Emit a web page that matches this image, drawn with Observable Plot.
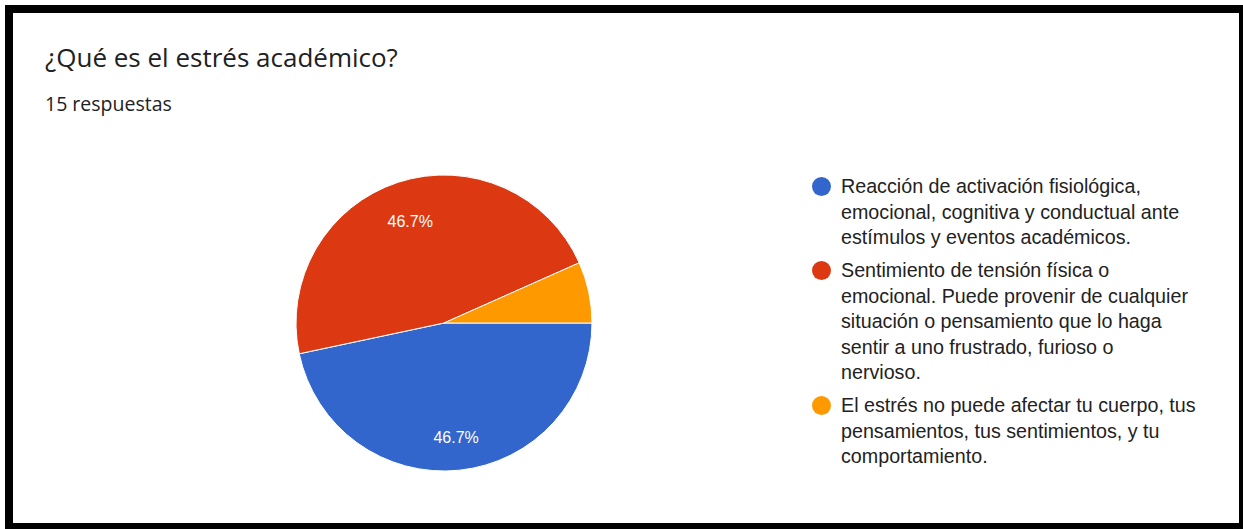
<!DOCTYPE html>
<html>
<head>
<meta charset="utf-8">
<script src="https://cdn.jsdelivr.net/npm/d3@7"></script>
<script src="https://cdn.jsdelivr.net/npm/@observablehq/plot@0.6"></script>
<style>
  html, body { margin: 0; padding: 0; background: #fff; }
  #frame {
    position: absolute; left: 5px; top: 5px;
    width: 1226px; height: 510px;
    border-style: solid; border-color: #000;
    border-width: 8px 4px 6px 8px;
    background: #fff; overflow: hidden;
  }
  #title {
    position: absolute; left: 32px; top: 31px;
    font-family: "Open Sans", Roboto, sans-serif; font-size: 26px; line-height: 26px;
    color: #202124; white-space: nowrap;
  }
  #subtitle {
    position: absolute; left: 32px; top: 81px;
    font-family: "Open Sans", Roboto, sans-serif; font-size: 19.5px; line-height: 19.5px;
    color: #202124; white-space: nowrap;
  }
  #chart { position: absolute; left: 281px; top: 160px; }
  #legend {
    position: absolute; left: 799px; top: 161px;
    font-family: "Liberation Sans", Arial, sans-serif; font-size: 19.7px; line-height: 25.5px;
    color: #222;
  }
  .item { display: flex; align-items: flex-start; margin-bottom: 7.5px; }
  .dot { width: 19px; height: 19px; border-radius: 50%; margin-top: 3px; margin-right: 10px; flex: none; }
  .line { white-space: nowrap; }
</style>
</head>
<body>
<div id="frame">
  <div id="title"></div>
  <div id="subtitle"></div>
  <div id="chart"></div>
  <div id="legend"></div>
</div>
<script>
const title = "¿Qué es el estrés académico?";
const subtitle = "15 respuestas";
const categories = [
  "Reacción de activación fisiológica, emocional, cognitiva y conductual ante estímulos y eventos académicos.",
  "Sentimiento de tensión física o emocional. Puede provenir de cualquier situación o pensamiento que lo haga sentir a uno frustrado, furioso o nervioso.",
  "El estrés no puede afectar tu cuerpo, tus pensamientos, tus sentimientos, y tu comportamiento."
];
const legendLines = [
  ["Reacción de activación fisiológica,", "emocional, cognitiva y conductual ante", "estímulos y eventos académicos."],
  ["Sentimiento de tensión física o", "emocional. Puede provenir de cualquier", "situación o pensamiento que lo haga", "sentir a uno frustrado, furioso o", "nervioso."],
  ["El estrés no puede afectar tu cuerpo, tus", "pensamientos, tus sentimientos, y tu", "comportamiento."]
];
const counts = [7, 7, 1];
const colors = ["#3366cc", "#dc3912", "#ff9900"];

document.getElementById("title").textContent = title;
document.getElementById("subtitle").textContent = subtitle;

const total = d3.sum(counts);
const data = categories.map((c, i) => ({category: c, count: counts[i], color: colors[i]}));
const arcs = d3.pie().value(d => d.count).sort(null)
  .startAngle(Math.PI / 2).endAngle(Math.PI / 2 + 2 * Math.PI)(data);

const labelR = 0.75;
const labels = arcs
  .filter(a => a.data.count / total > 0.1)
  .map(a => {
    const mid = (a.startAngle + a.endAngle) / 2;
    return {x: labelR * Math.sin(mid), y: labelR * Math.cos(mid), text: d3.format(".1%")(a.data.count / total)};
  });

function pieMark(index, scales) {
  const {x, y} = scales;
  const r = x(1) - x(0);
  const g = d3.create("svg:g").attr("transform", `translate(${x(0)},${y(0)})`);
  const arc = d3.arc().innerRadius(0).outerRadius(r);
  g.selectAll("path").data(arcs).join("path")
    .attr("d", arc)
    .attr("fill", d => d.data.color)
    .attr("stroke", "#fff")
    .attr("stroke-width", 1)
    .attr("stroke-linejoin", "round");
  return g.node();
}

const plot = Plot.plot({
  width: 300,
  height: 300,
  margin: 2,
  x: {domain: [-1, 1], axis: null},
  y: {domain: [-1, 1], axis: null},
  style: {background: "transparent", overflow: "visible"},
  marks: [
    pieMark,
    Plot.text(labels, {
      x: "x", y: "y", text: "text", fill: "#fff", dy: 4,
      fontSize: 16, fontFamily: "Liberation Sans, Arial, sans-serif"
    })
  ]
});
document.getElementById("chart").appendChild(plot);

const legend = d3.select("#legend");
data.forEach((d, i) => {
  const item = legend.append("div").attr("class", "item");
  item.append("span").attr("class", "dot").style("background", d.color);
  const t = item.append("div");
  legendLines[i].forEach(l => t.append("div").attr("class", "line").text(l));
});
</script>
</body>
</html>
